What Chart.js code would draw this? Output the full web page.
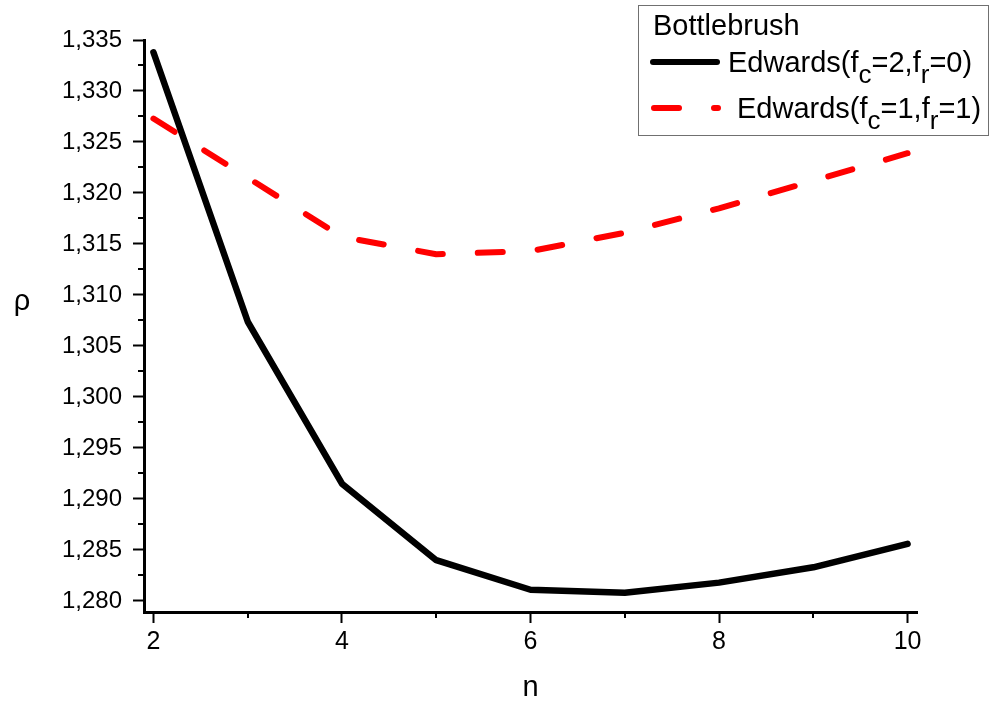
<!DOCTYPE html>
<html>
<head>
<meta charset="utf-8">
<title>Bottlebrush</title>
<script src="https://cdn.jsdelivr.net/npm/chart.js@4.4.1/dist/chart.umd.min.js"></script>
<style>
  html, body { margin: 0; padding: 0; background: #fff; }
  #wrap { width: 989px; height: 702px; }
</style>
</head>
<body>
<div id="wrap"><canvas id="chart" width="989" height="702"></canvas></div>
<script>
// 数据
const nValues = [2, 3, 4, 5, 6, 7, 8, 9, 10];
const edwardsFc2 = [1.3338, 1.3074, 1.2915, 1.2840, 1.2811, 1.2808, 1.2818, 1.2833, 1.2856];
const edwardsFc1 = [1.3273, 1.3215, 1.3157, 1.3140, 1.3143, 1.3161, 1.3185, 1.3212, 1.3239];

// 刻度
const xMajorTicks = [2, 4, 6, 8, 10];
const xMinorTicks = [3, 5, 7, 9];
const yMajorTicks = [1.280, 1.285, 1.290, 1.295, 1.300, 1.305, 1.310, 1.315, 1.320, 1.325, 1.330, 1.335];
const yMinorTicks = [1.2825, 1.2875, 1.2925, 1.2975, 1.3025, 1.3075, 1.3125, 1.3175, 1.3225, 1.3275, 1.3325];

// 图例文字（[文本, 是否下标]）
const legendTitle = 'Bottlebrush';
const legendFc2 = [['Edwards(f', false], ['c', true], ['=2,f', false], ['r', true], ['=0)', false]];
const legendFc1 = [['Edwards(f', false], ['c', true], ['=1,f', false], ['r', true], ['=1)', false]];
const yTitle = 'ρ';

const FONT = 'Arial, "Liberation Sans", sans-serif';
Chart.defaults.font.family = FONT;
Chart.defaults.color = '#000';

function toPoints(xs, ys) {
  return xs.map((x, i) => ({ x: x, y: ys[i] }));
}

// 画带下标的文字
function drawRich(ctx, parts, x, y, size) {
  let cx = x;
  parts.forEach(([txt, sub]) => {
    ctx.font = (sub ? size - 3 : size) + 'px ' + FONT;
    ctx.fillText(txt, cx, sub ? y + 11 : y);
    cx += ctx.measureText(txt).width;
  });
}

// 次刻度、纵轴标题和图例
const extrasPlugin = {
  id: 'extras',
  afterDraw(chart) {
    const ctx = chart.ctx;
    const xs = chart.scales.x;
    const ys = chart.scales.y;
    ctx.save();
    ctx.strokeStyle = '#000';
    ctx.lineWidth = 2;
    ctx.beginPath();
    yMinorTicks.forEach(v => {
      const p = Math.round(ys.getPixelForValue(v));
      ctx.moveTo(ys.right - 6, p);
      ctx.lineTo(ys.right, p);
    });
    xMinorTicks.forEach(v => {
      const p = Math.round(xs.getPixelForValue(v));
      ctx.moveTo(p, xs.top);
      ctx.lineTo(p, xs.top + 6);
    });
    ctx.stroke();

    // 纵轴标题（不旋转）
    ctx.fillStyle = '#000';
    ctx.textBaseline = 'alphabetic';
    ctx.textAlign = 'center';
    ctx.font = '29px ' + FONT;
    ctx.fillText(yTitle, 22, 310);

    // 图例框
    ctx.strokeStyle = '#707070';
    ctx.lineWidth = 1;
    ctx.strokeRect(638.5, 5.5, 350, 130);

    ctx.textAlign = 'left';
    ctx.font = '29px ' + FONT;
    ctx.fillText(legendTitle, 653, 35);

    ctx.lineCap = 'round';
    ctx.lineWidth = 6;
    ctx.strokeStyle = '#000';
    ctx.beginPath();
    ctx.moveTo(653, 62);
    ctx.lineTo(717, 62);
    ctx.stroke();

    ctx.strokeStyle = '#ff0000';
    ctx.setLineDash([25, 35]);
    ctx.beginPath();
    ctx.moveTo(654, 108);
    ctx.lineTo(718, 108);
    ctx.stroke();
    ctx.setLineDash([]);

    drawRich(ctx, legendFc2, 728, 72, 29);
    drawRich(ctx, legendFc1, 737, 118, 29);
    ctx.restore();
  }
};

new Chart(document.getElementById('chart'), {
  type: 'line',
  data: {
    datasets: [
      {
        label: 'Edwards(fc=2,fr=0)',
        data: toPoints(nValues, edwardsFc2),
        borderColor: '#000',
        borderWidth: 6.5,
        borderCapStyle: 'round',
        borderJoinStyle: 'round',
        pointRadius: 0,
        tension: 0,
        fill: false
      },
      {
        label: 'Edwards(fc=1,fr=1)',
        data: toPoints(nValues, edwardsFc1),
        borderColor: '#ff0000',
        borderWidth: 6,
        borderDash: [25, 35],
        borderCapStyle: 'round',
        borderJoinStyle: 'round',
        pointRadius: 0,
        tension: 0,
        fill: false
      }
    ]
  },
  options: {
    responsive: false,
    animation: false,
    devicePixelRatio: 1,
    layout: { padding: { top: 40, right: 72, left: 0, bottom: 0 } },
    plugins: {
      legend: { display: false },
      tooltip: { enabled: false }
    },
    scales: {
      x: {
        type: 'linear',
        min: 1.9,
        max: 10.1,
        afterBuildTicks: scale => { scale.ticks = xMajorTicks.map(v => ({ value: v })); },
        afterFit: scale => { scale.height = 90; },
        ticks: {
          padding: 4,
          font: { size: 25 },
          callback: v => String(v)
        },
        grid: {
          drawOnChartArea: false,
          drawTicks: true,
          tickLength: 11,
          tickWidth: 2,
          tickColor: '#000'
        },
        border: { display: true, color: '#000', width: 3 },
        title: {
          display: true,
          text: 'n',
          font: { size: 29, lineHeight: 1 },
          padding: { top: 0, bottom: 0 }
        }
      },
      y: {
        type: 'linear',
        min: 1.27892,
        max: 1.335,
        afterBuildTicks: scale => { scale.ticks = yMajorTicks.map(v => ({ value: v })); },
        afterFit: scale => { scale.width = 144; },
        ticks: {
          padding: 11,
          font: { size: 24 },
          callback: v => Number(v).toFixed(3).replace('.', ',')
        },
        grid: {
          drawOnChartArea: false,
          drawTicks: true,
          tickLength: 11,
          tickWidth: 2,
          tickColor: '#000'
        },
        border: { display: true, color: '#000', width: 3 },
        title: { display: false }
      }
    }
  },
  plugins: [extrasPlugin]
});
</script>
</body>
</html>
